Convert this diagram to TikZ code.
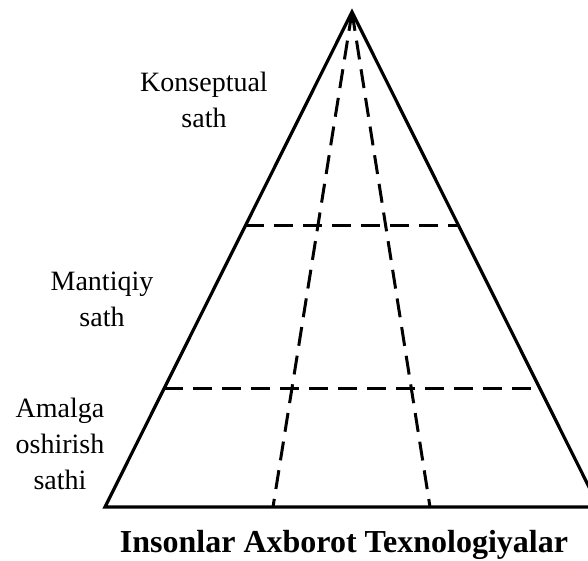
\documentclass[tikz,border=0pt]{standalone}
\usepackage{fontspec}
\setmainfont{Liberation Serif}
\usetikzlibrary{calc, positioning}

\begin{document}
\begin{tikzpicture}[x=1pt, y=-1pt, line width=3.2pt, line join=miter]
      \tikzstyle{level}=[font=\fontsize{28}{36}\selectfont, align=center, inner sep=0pt, anchor=north]
      \tikzstyle{split}=[line width=3pt, dash pattern=on 19pt off 10pt]
      \useasboundingbox (0,0) rectangle (588,560);

      % Corners
      \coordinate (top) at (352,12);
      \coordinate (bl) at (105,507);
      \coordinate (br) at (599,507);
      \coordinate (bm1) at (273,507);
      \coordinate (bm2) at (430,507);
      \coordinate (ul) at ($(top)!0.432!(bl)$);
      \coordinate (ur) at ($(top)!0.432!(br)$);
      \coordinate (ll) at ($(top)!0.76!(bl)$);
      \coordinate (lr) at ($(top)!0.76!(br)$);

      % Labels
      \node[level] (konsep) at (204,70) {Konseptual\\sath};
      \node[level] (mantiq) at (102,270) {Mantiqiy\\sath};
      \node[level] (amalga) at (60,396) {Amalga\\oshirish\\sathi};
      \node[font=\fontsize{32}{36}\selectfont\bfseries, inner sep=0pt, anchor=base] (title) at (344,552) {Insonlar Axborot Texnologiyalar};

      % Edges
      \draw (bl) -- (top) -- (br) -- cycle;
      \path[split]
        (ul) edge (ur)
        (ll) edge (lr)
        (top) edge (bm1)
              edge (bm2);
    \end{tikzpicture}
\end{document}
